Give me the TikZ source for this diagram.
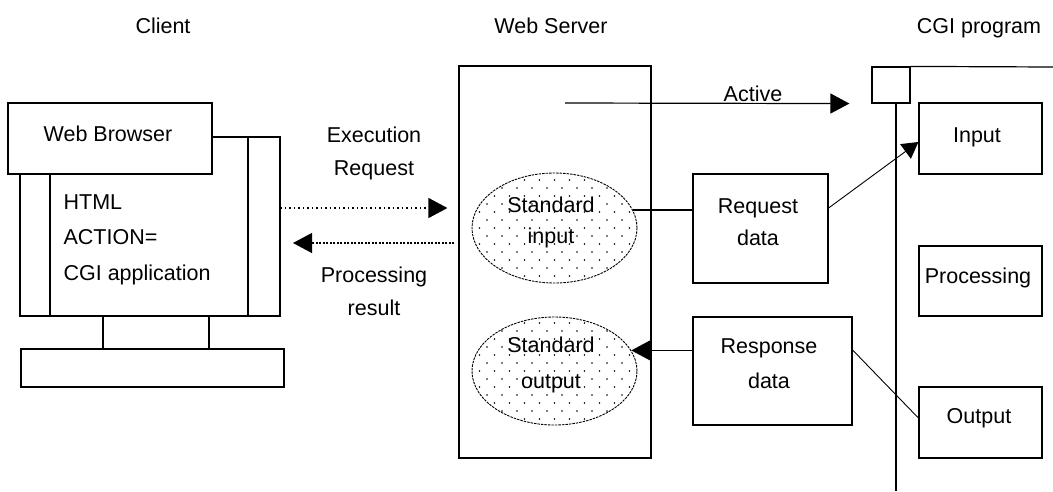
\documentclass[tikz,border=0pt]{standalone}
\usepackage{fontspec}
\setmainfont{Liberation Sans}
\usetikzlibrary{arrows.meta,shapes.geometric,calc}
\begin{document}
\begin{tikzpicture}[x=1pt,y=-1pt,line width=1.2pt,
  box/.style={draw,rectangle,inner sep=0pt,fill=white},
  lbl/.style={anchor=base,inner sep=0pt,font=\fontsize{21.5}{26}\selectfont},
  tri/.style={-{Triangle[length=19pt,width=20pt]}},
  ell/.style={ellipse,draw,inner sep=0pt,line width=0.9pt,dash pattern=on 2.5pt off 1pt,
    path picture={
      \foreach \j in {-8,...,8}{
        \foreach \i in {-7,...,7}{
          \pgfmathsetmacro{\off}{mod(abs(\j),2)*7.5}
          \fill ($(path picture bounding box.center)+(\i*15+\off,\j*8)$) circle (0.85pt);
        }
      }
    }},
  dotA/.style={dash pattern=on 1.5pt off 3pt},
  dotB/.style={dash pattern=on 2pt off 1.5pt},
]
\useasboundingbox (0,0) rectangle (1053,491);
% headers
\node[lbl] (hclient) at (163,33) {Client};
\node[lbl] (hserver) at (551,33) {Web Server};
\node[lbl] (hcgi) at (979,33) {CGI program};
% client monitor
\draw (212,137) -- (280,137) -- (280,316) -- (20,316) -- (20,174);
\draw (248,137) -- (248,316);
\draw (50,174) -- (50,316);
\draw (103,316) -- (103,349);
\draw (209,316) -- (209,349);
\node[box,minimum width=263,minimum height=38] (base) at (152.5,368) {};
\node[box,minimum width=204,minimum height=71] (browser) at (110,138.5) {};
\node[lbl] (tbrowser) at (108,141) {Web Browser};
\node[lbl,anchor=base west] (thtml) at (63,209) {HTML};
\node[lbl,anchor=base west] (taction) at (63,244) {ACTION=};
\node[lbl,anchor=base west] (tcgiapp) at (63,280) {CGI application};
\coordinate (monA) at (280,208);
\coordinate (monB) at (280,243);
% exchange labels
\node[lbl] (texec) at (374,142) {Execution};
\node[lbl] (treq) at (374,175) {Request};
\node[lbl] (tproc) at (374,282) {Processing};
\node[lbl] (tres) at (374,315) {result};
% server
\node[box,minimum width=192,minimum height=392] (server) at (555,262) {};
\node[ell,minimum width=165,minimum height=110] (stdin) at (554.5,228) {};
\node[ell,minimum width=165,minimum height=108] (stdout) at (554.5,371) {};
\node[lbl] (tstd1) at (551,212) {Standard};
\node[lbl] (tin) at (551,243) {input};
\node[lbl] (tstd2) at (551,352) {Standard};
\node[lbl] (tout) at (551,388) {output};
% data boxes
\node[box,minimum width=135,minimum height=109] (reqd) at (760.5,228.5) {};
\node[lbl] (treqd1) at (758,213) {Request};
\node[lbl] (treqd2) at (758,245) {data};
\node[box,minimum width=159,minimum height=108] (resd) at (772.5,371) {};
\node[lbl] (tresd1) at (769,353) {Response};
\node[lbl] (tresd2) at (769,388) {data};
% CGI program
\node[box,minimum width=38,minimum height=36] (sq) at (891,85) {};
\coordinate (lifeTop) at (896,103);
\coordinate (lifeBot) at (896,491);
\coordinate (topEnd) at (1053,67);
\draw (sq.north east) -- (topEnd);
\draw (lifeTop) -- (lifeBot);
\node[box,minimum width=123,minimum height=71] (inp) at (980.5,138.5) {};
\node[lbl] (tinp) at (977,142) {Input};
\node[box,minimum width=123,minimum height=70] (proc) at (980.5,281) {};
\node[lbl] (tprocb) at (978,283) {Processing};
\node[box,minimum width=123,minimum height=71] (outp) at (980.5,422.5) {};
\node[lbl] (toutp) at (979,423) {Output};
% Active
\coordinate (actS) at (565,103);
\draw[tri] (actS) -- (sq.south west) [shorten >=22pt];
\node[lbl] (tact) at (753,101) {Active};
% connectors
\draw[tri,dotA] (monA) -- ([xshift=-11pt]server.west |- monA);
\draw[tri,dotB] ([xshift=-4pt]server.west |- monB) -- ([xshift=13pt]monB);
\draw (stdin.13) -- (stdin.13 -| reqd.west);
\draw[tri] (resd.west |- stdout.15) -- (stdout.15);
\draw[-{Triangle[length=16pt,width=18pt]},line width=0.9pt] ([yshift=20.5pt]reqd.east) -- ([yshift=-3.5pt]inp.west);
\draw[line width=0.9pt] ([yshift=21pt]resd.east) -- ([yshift=4.5pt]outp.west);
\end{tikzpicture}
\end{document}
